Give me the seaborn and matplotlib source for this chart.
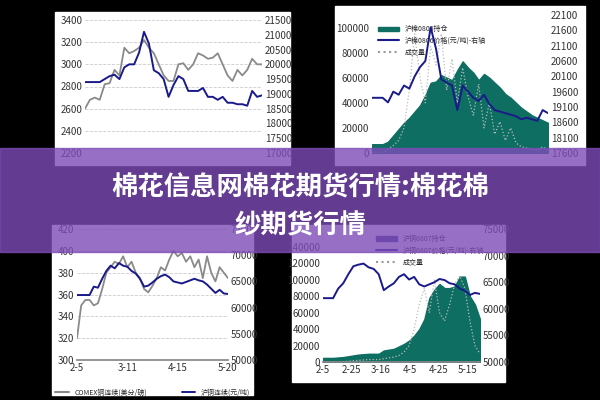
import numpy as np
import matplotlib.pyplot as plt
import seaborn as sns
from matplotlib.patches import Rectangle

sns.set_theme(style="white")
plt.rcParams['font.family'] = ['Noto Sans CJK SC', 'DejaVu Sans']

# ---- 左上: 棉花 ----
tl_gray = [2600, 2680, 2700, 2680, 2820, 2830, 2950, 2900, 3150, 3100, 3120, 3150, 3220, 3150, 3100,
           3000, 2900, 2850, 2850, 3000, 3010, 2950, 3000, 3100, 3080, 3050, 3060, 3100, 3000, 2900,
           2850, 2950, 2900, 2950, 3050, 3000, 3000]
tl_blue = [19400, 19400, 19400, 19400, 19500, 19600, 19650, 19500, 19900, 20000, 20000, 20400, 21100, 20700, 19800,
           19700, 19500, 18900, 19300, 19600, 19500, 19100, 19100, 19100, 19200, 18900, 18900, 18800, 18900, 18700,
           18700, 18650, 18650, 18600, 19100, 18900, 18950]

# ---- 右上: 沪棉0806 ----
tr_oi = [7000, 7000, 7000, 9000, 14000, 19000, 24000, 28000, 33000, 38000, 46000, 56000, 57000, 62000, 60000,
         58000, 66000, 73000, 68000, 64000, 58000, 63000, 60000, 56000, 52000, 47000, 44000, 40000, 36000, 33000,
         30000, 28000, 26000, 24000]
tr_price = [19400, 19400, 19400, 19250, 19600, 19500, 19800, 19700, 20100, 20400, 20600, 21700, 21000, 20000, 19900,
            19800, 19000, 19800, 19600, 19400, 19300, 19500, 19200, 19000, 18950, 18900, 18850, 18800, 18700, 18750,
            18700, 18650, 19000, 18900]
tr_vol = [0, 0, 0, 3000, 6000, 10000, 20000, 50000, 95000, 60000, 40000, 85000, 70000, 95000, 50000,
          75000, 40000, 68000, 45000, 30000, 55000, 20000, 40000, 15000, 25000, 10000, 20000, 8000, 5000, 4000,
          3000, 2000, 5000, 2000]

# ---- 左下: COMEX铜 / 沪铜 ----
bl_gray = [320, 350, 355, 355, 350, 352, 365, 380, 385, 390, 388, 395, 385, 390, 380, 375, 365, 362, 368,
           375, 385, 382, 392, 400, 395, 398, 390, 395, 385, 392, 375, 395, 380, 372, 385, 380, 375]
bl_blue = [62400, 62400, 62400, 62400, 64000, 63800, 65500, 67000, 68000, 67500, 68500, 68000, 67800, 67000, 66500,
           65500, 64000, 64200, 64800, 65500, 66000, 66300, 65800, 65000, 64800, 64600, 64900, 65200, 65500, 65200,
           65000, 64400, 63600, 62800, 63400, 62700, 62600]
bl_ticks = ["2-5", "3-11", "4-15", "5-20"]

# ---- 右下: 沪铜0807 ----
br_oi = [5000, 5000, 5000, 5500, 6000, 7000, 8000, 9000, 9500, 10000, 10000, 10000, 14000, 15000, 16000,
         19000, 22000, 26000, 32000, 40000, 52000, 78000, 88000, 95000, 90000, 90000, 92000, 104000, 104000, 80000,
         70000, 52000]
br_price = [62000, 62000, 62000, 63800, 64800, 66500, 68000, 68300, 68500, 67800, 67500, 66500, 63500, 64200, 64800,
            66000, 66500, 65500, 66000, 64600, 64200, 64600, 65000, 65600, 65400, 64800, 64600, 63800, 63400, 62600,
            63000, 62800]
br_vol = [0, 0, 0, 0, 500, 1000, 1500, 2000, 2500, 3000, 3000, 3000, 4000, 5000, 6000,
          8000, 12000, 20000, 40000, 70000, 90000, 60000, 100000, 60000, 50000, 70000, 95000, 105000, 90000, 50000,
          20000, 10000]
br_ticks = ["2-5", "2-25", "3-16", "4-5", "4-25", "5-15"]

fig = plt.figure(figsize=(6, 4), dpi=100, facecolor="black")
W, H = 600, 400


def box(x0, y0, x1, y1):
    fig.patches.append(Rectangle((x0 / W, 1 - y1 / H), (x1 - x0) / W, (y1 - y0) / H,
                                 transform=fig.transFigure, color="white", zorder=-5))


def axes(x0, y0, x1, y1, spine=True):
    ax = fig.add_axes([x0 / W, 1 - y1 / H, (x1 - x0) / W, (y1 - y0) / H])
    ax.set_facecolor("white")
    for s in ax.spines.values():
        s.set_visible(False)
    if spine:
        ax.spines["bottom"].set_visible(True)
        ax.spines["bottom"].set_color("#888888")
    ax.tick_params(labelsize=7, colors="#333333", length=0, pad=2)
    ax.grid(axis="y", ls="--", color="#cccccc", lw=0.6)
    return ax


def right(ax, lo, hi, step, top=None):
    ax.set_ylim(lo, top if top else hi)
    ax.set_yticks(range(lo, hi + 1, step))
    ax.tick_params(labelsize=7, colors="#333333", length=0, pad=2)
    ax.set_ylabel("")
    for s in ax.spines.values():
        s.set_visible(False)


teal = "#0e6e62"
navy = "#1a1a8a"

# 左上
box(55, 12, 290, 165)
ax = axes(85, 20, 262, 153, spine=False)
x = np.arange(len(tl_gray))
sns.lineplot(x=x, y=tl_gray, ax=ax, color="#8a8a8a", lw=1.3)
ax.set_ylim(2200, 3400)
ax.set_yticks(range(2200, 3401, 200))
ax.set_xlim(0, len(x) - 1)
ax.set_xticks([])
ax2 = ax.twinx()
sns.lineplot(x=x, y=tl_blue, ax=ax2, color=navy, lw=1.4)
right(ax2, 17000, 21500, 500)

# 右上
box(335, 6, 585, 165)
ax = axes(372, 15, 548, 153, spine=False)
x = np.arange(len(tr_oi))
ax.fill_between(x, tr_oi, color=teal)
ax.plot(x, tr_vol, color="#bbbbbb", ls=":", lw=0.9)
ax.set_ylim(0, 110000)
ax.set_yticks(range(0, 100001, 20000))
ax.set_xlim(0, len(x) - 1)
ax.set_xticks([])
ax.grid(False)
ax2 = ax.twinx()
sns.lineplot(x=x, y=tr_price, ax=ax2, color=navy, lw=1.4)
right(ax2, 17600, 22100, 500)
ax.legend(handles=[Rectangle((0, 0), 1, 1, color=teal),
                   plt.Line2D([], [], color=navy), plt.Line2D([], [], color="#999999", ls=":")],
          labels=["沪棉0806持仓", "沪棉0806价格(元/吨)-右轴", "成交量"],
          loc="upper left", bbox_to_anchor=(0.0, 0.97), fontsize=5, frameon=False, handlelength=3)

# 左下
box(52, 225, 253, 395)
ax = axes(77, 229, 228, 360)
x = np.arange(len(bl_gray))
sns.lineplot(x=x, y=bl_gray, ax=ax, color="#8a8a8a", lw=1.3)
ax.set_ylim(300, 420)
ax.set_yticks(range(300, 421, 20))
ax.set_xlim(0, len(x) - 1)
ax.set_xticks(np.linspace(0, len(x) - 1, 4))
ax.set_xticklabels(bl_ticks)
ax2 = ax.twinx()
sns.lineplot(x=x, y=bl_blue, ax=ax2, color=navy, lw=1.4)
right(ax2, 50000, 75000, 5000)
ax.legend(handles=[plt.Line2D([], [], color="#8a8a8a"), plt.Line2D([], [], color=navy, lw=1.4)],
          labels=["COMEX铜连续(美分/磅)", "沪铜连续(元/吨)"], loc="upper center",
          bbox_to_anchor=(0.5, -0.17), ncol=2, fontsize=5, frameon=False, columnspacing=5)

# 右下
box(292, 225, 505, 382)
ax = axes(323, 229, 480, 362)
x = np.arange(len(br_oi))
ax.fill_between(x, br_oi, color=teal)
ax.plot(x, br_vol, color="#bbbbbb", ls=":", lw=0.9)
ax.set_ylim(0, 162000)
ax.set_yticks(range(0, 140001, 20000))
ax.set_xlim(0, len(x) - 1)
ax.set_xticks(np.linspace(0, 28.5, 6))
ax.set_xticklabels(br_ticks)
ax.grid(False)
ax2 = ax.twinx()
sns.lineplot(x=x, y=br_price, ax=ax2, color=navy, lw=1.4)
right(ax2, 50000, 75000, 5000)
ax.legend(handles=[Rectangle((0, 0), 1, 1, color="#3a3a8a"),
                   plt.Line2D([], [], color=navy), plt.Line2D([], [], color="#999999", ls=":")],
          labels=["沪铜0807持仓", "沪铜0807价格(元/吨)-右轴", "成交量"],
          loc="upper left", bbox_to_anchor=(0.3, 1.0), fontsize=5, frameon=False, handlelength=3)

# 标题横幅
fig.patches.append(Rectangle((0, 1 - 252 / H), 1, 104 / H, transform=fig.transFigure,
                             color="#7d4cb8", alpha=0.8, zorder=10))
fig.text(0.5, 1 - 188 / H, "棉花信息网棉花期货行情:棉花棉", color="white", fontsize=19,
         fontweight="bold", ha="center", va="center", zorder=11)
fig.text(0.5, 1 - 226 / H, "纱期货行情", color="white", fontsize=19,
         fontweight="bold", ha="center", va="center", zorder=11)

fig.savefig("out.png", dpi=100, facecolor="black")
